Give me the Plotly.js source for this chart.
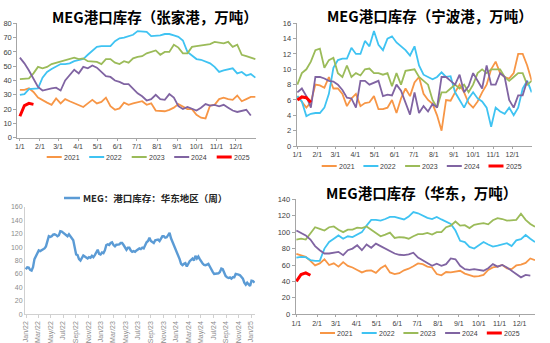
<!DOCTYPE html>
<html><head><meta charset="utf-8">
<script src="https://cdn.plot.ly/plotly-3.0.1.min.js"></script>
<style>body{margin:0;background:#fff}#chart{width:550px;height:343px}</style>
</head><body><div id="chart"></div>
<script>
// ---------- data ----------
const seriesYears = ['2021', '2022', '2023', '2024', '2025'];
const monthTickDays = [0, 31, 59, 90, 120, 151, 181, 212, 243, 273, 304, 334];
const monthTickText = ['1/1', '2/1', '3/1', '4/1', '5/1', '6/1', '7/1', '8/1', '9/1', '10/1', '11/1', '12/1'];

// 张家港 (万吨), weekly
const zjg2021 = [33.5,33.5,34.5,32,28,26,24.5,23,27.5,24,27,25.5,24,23,21.5,24,26.5,24,25,28,22,19.5,20.5,24.5,23,24,25,25.5,23,24,19,18.5,18.5,19.5,21,23.5,22,20,20,16,14,13.5,22.5,23,27,28,27,26.5,29.5,25.5,27,28.5,28.5];
const zjg2022 = [30,30.5,34,34.5,34.5,42,46,48,50,51.5,51.5,52,53.5,54,55,58,61,63.5,64,64,64,67.5,69.5,70,71,72,74.5,74,74,71,71,71.5,72.5,72.5,71.5,70.5,68,60,57.5,55,54.5,53,52,49.5,46,47,47.5,48.5,45,46,43.5,44.5,42];
const zjg2023 = [41,41,41.5,45,49.5,48.5,49.5,51.5,52.5,53,54,55.5,56,55,55.5,53.5,53.5,53,51.5,55,55,52.5,51.5,53.5,52.5,55.5,56.5,57,59,60,61,58,60,60,65,63,59,59,63.5,64,64.5,65,65.5,67,66.5,66,67,63.5,65,58,57,56,55];
const zjg2024 = [56,52,47,41,35.5,33,34,34.5,35,33,40,44,47.5,45,49.5,48.5,50.5,49,46,43,42.5,40,39,37.5,37.5,34,31,29,26,27,30,27,26.5,30.5,28,22,20,21.5,20,19,21,23.5,22.5,23,22,23,21,19,18,18.5,19.5,15.5];
const zjg2025 = [15,22.5,24,23.3];

// 宁波港 (万吨), weekly
const nb2021 = [6.5,5.8,5,5.7,8,7.9,7.6,9,7.5,7.5,6.8,5.2,6.2,6.8,5.2,5.6,5.7,6.5,4.8,4.8,5,6,4.3,6.2,7.5,6.5,8.3,9,6.8,6,5.5,4,2,6,5.9,7,8,7,5.6,5,5.8,7,8,10,11,9.5,9,8.8,9.5,12,12,10.5,8.5];
const nb2022 = [6.5,5.8,3.9,4.2,4.3,4.3,5,6.8,10.2,11.2,11.4,11.4,12.8,12,12,13.7,13,15,13.2,12.5,14,14.3,13.5,13,12.5,11.8,13,10.5,9.3,9,8.7,9,9.6,9,9.1,7,6,5,6.2,7,6.2,5.8,5,2.5,5,4.5,4.2,5,4,5,7.5,8.5,7];
const nb2023 = [8,9.5,10,11,12.5,12.7,10.2,11.2,11.5,9.5,9,10.5,9,9.5,9.2,10,10.1,9.5,9.5,9.3,9.5,7.8,9.5,8,9.8,9.9,10,9,8.5,8,6,5,7,7,7.5,8,7.5,8,7,8,9.5,10,9.5,10,10,10,9,8.5,9,9.5,9.5,8,8.5];
const nb2024 = [7,7.5,6.5,5,9,9,8.8,8.5,8.4,8,7.3,6.3,6.2,5,8.5,8.5,8,8.2,8.5,6.5,6.7,6.6,8,7.2,5.6,4.1,7,4.3,5.2,4.5,5.5,5,9,9,8.5,8,9.3,7,7.8,9.5,8.5,7.5,10.5,8,8,9.5,9,6,5,6.6,6.6,8.5];
const nb2025 = [6,6.4,6.3,5.7];

// 华东 (万吨), weekly
const hd2021 = [73.5,72,70,65,59.5,62,67,60,62,58,63.5,59,57,54,51,53,53.5,50.5,56,59.5,51,49,50,53.5,55.5,58.5,62,61,58,57,49,47.5,51.5,51,52,53,49.5,47.5,46,46.5,48,54,57,58,60,56,55,59.5,60.5,62.5,68,66];
const hd2022 = [69,70,69.5,66,65,65,80,88,92,96,92,95,94,97,100,108,115,115,114,116,118.5,118.5,117,115.5,119,124.5,123,120.5,117.5,116,118.5,115.5,113,110,102,89.5,88,82,80,84,88,85,82.5,83.5,85,86.5,83,90,91.5,96.5,92,88];
const hd2023 = [91,92,91,99,106,104,102,106,107,103,100,103,103,105.5,105,107,103,100,95,97,99.5,93,94,93.5,92,95,97.5,97.5,99,97,100,100,106,108,113,108,108.5,105,109,110,111,109.5,114.5,117,116,114,114.5,115,122.5,115,110,106.5];
const hd2024 = [102,99,96,91,83,78,74,74,75,76,72,78,80,84,78,85,81,86,83,80,76,74,72.5,72,73,75,69,66,62,59,61.5,59,61,68,67,59,55,54,55,54,53,56,61,58,60,57,53,49,45,48,47];
const hd2025 = [40,48.5,50.5,47.5];

// MEG：港口库存：华东地区（周）, weekly from 2021-12-31
const hdStart = '2021-12-31';
const hdWeekly = [67,70,69.5,66,65,70,82,87,92,95,94,95,96,98,101,109,116,115,116,118.5,119,118,116,117.5,123.5,123,121,118.5,116.5,116,119,115,113,110,101,89,88,82,80,84.5,87.5,86,84,83,85,84,87,85,88,93,96,90,89,92,91,95,103,104,103,106,107,103,101,103.5,104,104,106,106,103,99,96,99,99,95,93,94,93,95,97,98,97,99,98,103,107,109,114,109,108,106,110,110,111,109,112,116,116,114,114.5,117,121,113,108,104,99,93,87,82,75,73,75,76,71,76,79,81,83,80,87,83,86,82,78,75.5,73.5,73,74,75,71,66,63,60,60.5,61,61,63,68,67,62,57,55,54,55,53,55,55,60,60,59,58,56,53,47,44,47,44,42,50,49.5,47];

// ---------- style ----------
const yearColors = {'2021':'#F79646','2022':'#3FC3F2','2023':'#9BBB59','2024':'#8064A2','2025':'#FF0000'};
const W = 550, H = 343;
const px = x => x / W;
const py = y => 1 - y / H;

function weekX(arr) { return arr.map((_, i) => i * 7); }
function weekDates(start, n) {
  const d0 = new Date(start + 'T00:00:00Z');
  const out = [];
  for (let i = 0; i < n; i++) {
    const d = new Date(d0.getTime() + i * 7 * 86400000);
    out.push(d.toISOString().slice(0, 10));
  }
  return out;
}

const traces = [];
function addSet(sets, xa, ya) {
  sets.forEach((arr, k) => {
    const yr = seriesYears[k];
    traces.push({
      type: 'scatter', mode: 'lines', name: yr, showlegend: false,
      x: weekX(arr), y: arr, xaxis: xa, yaxis: ya,
      line: {color: yearColors[yr], width: yr === '2025' ? 3 : 1.8}
    });
  });
}
addSet([zjg2021, zjg2022, zjg2023, zjg2024, zjg2025], 'x', 'y');
addSet([nb2021, nb2022, nb2023, nb2024, nb2025], 'x2', 'y2');
addSet([hd2021, hd2022, hd2023, hd2024, hd2025], 'x4', 'y4');
traces.push({
  type: 'scatter', mode: 'lines', name: 'MEG：港口库存：华东地区（周）', showlegend: false,
  x: weekDates(hdStart, hdWeekly.length), y: hdWeekly, xaxis: 'x3', yaxis: 'y3',
  line: {color: '#5B9BD5', width: 2.4}
});

const tickFont = {family: 'Liberation Sans, Arial, sans-serif', size: 7, color: '#404040'};
function catX(domain, range, anchor) {
  return {domain, range, anchor, tickmode: 'array', tickvals: monthTickDays, ticktext: monthTickText,
    showline: true, linecolor: '#a6a6a6', linewidth: 1, ticks: 'outside', ticklen: 2, tickcolor: '#a6a6a6',
    showgrid: false, zeroline: false, tickfont: tickFont, fixedrange: true};
}
function valY(domain, range, dtick, anchor, font) {
  return {domain, range, dtick, anchor, showline: true, linecolor: '#a6a6a6', linewidth: 1,
    ticks: 'outside', ticklen: 3, tickcolor: '#a6a6a6', showgrid: false, zeroline: false,
    tickfont: font || {family: 'Liberation Sans, Arial, sans-serif', size: 7.5, color: '#404040'}, fixedrange: true};
}

const greyFont = {family: 'Liberation Sans, Arial, sans-serif', size: 7, color: '#8c8c8c'};

const layout = {
  width: W, height: H, autosize: false,
  margin: {l: 0, r: 0, t: 0, b: 0},
  paper_bgcolor: '#ffffff', plot_bgcolor: '#ffffff',
  showlegend: false,
  xaxis: catX([px(17.3), px(256)], [-4, 365], 'y'),
  yaxis: valY([py(137.7), py(23.3)], [0, 80], 10, 'x'),
  xaxis2: catX([px(296.7), px(531.7)], [-1, 364], 'y2'),
  yaxis2: valY([py(146), py(23.3)], [0, 16], 2, 'x2'),
  xaxis3: {domain: [px(25), px(255)], range: ['2021-12-27', '2025-01-20'], anchor: 'y3', type: 'date',
    tick0: '2022-01-01', dtick: 'M2', tickformat: '%b/%y', tickangle: -90,
    showline: true, linecolor: '#d0d0d0', linewidth: 1, ticks: 'outside', ticklen: 3, tickcolor: '#d0d0d0',
    showgrid: false, zeroline: false, tickfont: greyFont, fixedrange: true},
  yaxis3: {domain: [py(314.3), py(206.7)], range: [0, 160], dtick: 20, anchor: 'x3',
    showline: true, linecolor: '#d0d0d0', linewidth: 1, ticks: '', showgrid: false, zeroline: false,
    tickfont: greyFont, fixedrange: true},
  xaxis4: catX([px(295.7), px(535)], [-1, 357], 'y4'),
  yaxis4: valY([py(314.3), py(199.3)], [0, 140], 20, 'x4'),
  annotations: [], shapes: []
};

const titleFont = {family: 'Noto Sans CJK SC, sans-serif', size: 14.5, color: '#000000'};
[['MEG港口库存（张家港，万吨）', 155, 16], ['MEG港口库存（宁波港，万吨）', 430, 15.7], ['MEG港口库存（华东，万吨）', 421.7, 192.7]]
  .forEach(([t, x, y]) => layout.annotations.push({text: '<b>' + t + '</b>', x: px(x), y: py(y), xref: 'paper', yref: 'paper',
    xanchor: 'center', yanchor: 'middle', showarrow: false, font: titleFont}));

// manual legends
const legFont = {family: 'Liberation Sans, Arial, sans-serif', size: 7, color: '#404040'};
function addLegend(x0, step, y) {
  seriesYears.forEach((yr, i) => {
    const lx = x0 + i * step;
    layout.shapes.push({type: 'line', xref: 'paper', yref: 'paper', x0: px(lx), x1: px(lx + 15), y0: py(y), y1: py(y),
      line: {color: yearColors[yr], width: yr === '2025' ? 3 : 2}});
    layout.annotations.push({text: yr, x: px(lx + 16), y: py(y), xref: 'paper', yref: 'paper', xanchor: 'left', yanchor: 'middle',
      showarrow: false, borderpad: 0, font: legFont});
  });
}
addLegend(46.7, 42.5, 157);
addLegend(321.7, 41.7, 166);
addLegend(320, 41.7, 333);

layout.shapes.push({type: 'line', xref: 'paper', yref: 'paper', x0: px(64), x1: px(80), y0: py(198), y1: py(198),
  line: {color: '#5B9BD5', width: 2.5}});
layout.annotations.push({text: '<b>MEG：港口库存：华东地区（周）</b>', x: px(81), y: py(198), xref: 'paper', yref: 'paper',
  xanchor: 'left', yanchor: 'middle', showarrow: false,
  font: {family: 'Noto Sans CJK SC, sans-serif', size: 9.5, color: '#262626'}});

Plotly.newPlot('chart', traces, layout, {displayModeBar: false, staticPlot: true});
</script>
</body></html>
